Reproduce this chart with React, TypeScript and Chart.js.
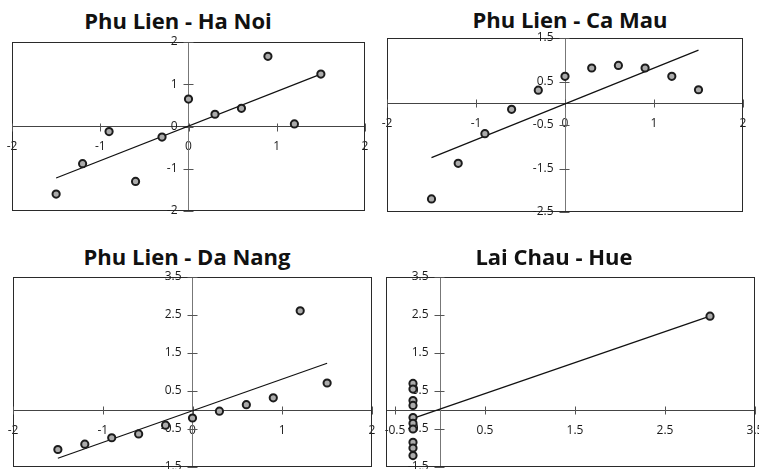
import React, { useEffect, useRef } from "react";
import { Chart, registerables } from "chart.js";

Chart.register(...registerables);

// ---- data ----
const stdX = [-1.5, -1.2, -0.9, -0.6, -0.3, 0, 0.3, 0.6, 0.9, 1.2, 1.5];

const haNoiY = [-1.6, -0.88, -0.12, -1.3, -0.25, 0.65, 0.29, 0.43, 1.66, 0.06, 1.24];
const caMauY = [-2.2, -1.38, -0.7, -0.14, 0.3, 0.62, 0.81, 0.87, 0.81, 0.62, 0.31];
const daNangY = [-1.04, -0.9, -0.73, -0.63, -0.4, -0.21, -0.03, 0.14, 0.32, 2.61, 0.71];

const hueX = [-0.3, -0.3, -0.3, -0.3, -0.3, -0.3, -0.3, -0.3, -0.3, -0.3, 3.0];
const hueY = [0.7, 0.55, 0.25, 0.12, -0.2, -0.35, -0.5, -0.85, -1.0, -1.2, 2.47];

const haNoiTrendX = [-1.5, 1.5];
const haNoiTrendY = [-1.22, 1.24];
const caMauTrendX = [-1.5, 1.5];
const caMauTrendY = [-1.25, 1.22];
const daNangTrendX = [-1.5, 1.5];
const daNangTrendY = [-1.27, 1.23];
const hueTrendX = [-0.3, 3.0];
const hueTrendY = [-0.22, 2.47];

const stdXTicks = [-2, -1, 0, 1, 2];
const haNoiYTicks = [-2, -1, 0, 1, 2];
const caMauYTicks = [-2.5, -1.5, -0.5, 0.5, 1.5];
const daNangYTicks = [-1.5, -0.5, 0.5, 1.5, 2.5, 3.5];
const hueXTicks = [-0.5, 0.5, 1.5, 2.5, 3.5];
const hueYTicks = [-1.5, -0.5, 0.5, 1.5, 2.5, 3.5];
const hueXRange = [-0.6, 3.5];

const titles = ["Phu Lien - Ha Noi", "Phu Lien - Ca Mau", "Phu Lien - Da Nang", "Lai Chau - Hue"];

const toPoints = (xs: number[], ys: number[]) => xs.map((x, i) => ({ x, y: ys[i] }));

const LABEL_FONT = "12px 'Open Sans', sans-serif";

// frame around the plot area + crossing tick marks + y tick labels beside the vertical axis
const framePlugin = {
  id: "frame",
  beforeDatasetsDraw(chart: any) {
    const { ctx, chartArea, scales } = chart;
    const { left, top, right, bottom } = chartArea;
    const xs = scales.x;
    const ys = scales.y;
    ctx.save();
    ctx.strokeStyle = "#2a2a2a";
    ctx.lineWidth = 1;
    ctx.strokeRect(left + 0.5, top + 0.5, right - left - 1, bottom - top - 1);

    const ax = Math.round(xs.getPixelForValue(0)) + 0.5;
    const ay = Math.round(ys.getPixelForValue(0)) + 0.5;
    ctx.strokeStyle = "#555";
    ctx.beginPath();
    ys.ticks.forEach((t: any) => {
      const py = Math.round(ys.getPixelForValue(t.value)) + 0.5;
      ctx.moveTo(ax - 6, py);
      ctx.lineTo(ax + 4, py);
    });
    xs.ticks.forEach((t: any) => {
      const px = Math.round(xs.getPixelForValue(t.value)) + 0.5;
      ctx.moveTo(px, ay - 4);
      ctx.lineTo(px, ay + 4);
    });
    ctx.stroke();

    ctx.font = LABEL_FONT;
    ctx.fillStyle = "#1a1a1a";
    ctx.textAlign = "right";
    ctx.textBaseline = "middle";
    ys.ticks.forEach((t: any) => {
      ctx.fillText(String(t.value), ax - 12, ys.getPixelForValue(t.value));
    });
    ctx.restore();
  },
};

type PanelProps = {
  title: string;
  box: { left: number; top: number; right: number; bottom: number };
  titleCx: number;
  titleTop: number;
  xs: number[];
  ys: number[];
  tx: number[];
  ty: number[];
  xTicks: number[];
  yTicks: number[];
  xRange?: number[];
};

const M = 12;

function Panel(p: PanelProps) {
  const ref = useRef<HTMLCanvasElement | null>(null);
  const w = p.box.right - p.box.left + 2 * M;
  const h = p.box.bottom - p.box.top + 2 * M;

  useEffect(() => {
    if (!ref.current) return;
    const xMin = p.xRange ? p.xRange[0] : p.xTicks[0];
    const xMax = p.xRange ? p.xRange[1] : p.xTicks[p.xTicks.length - 1];
    const tickFont = { family: "'Open Sans', sans-serif", size: 12 };
    const chart = new Chart(ref.current, {
      type: "scatter",
      data: {
        datasets: [
          {
            data: toPoints(p.xs, p.ys),
            pointRadius: 3.6,
            pointBorderWidth: 2,
            pointBorderColor: "#1c1c1c",
            pointBackgroundColor: "#ababab",
            showLine: false,
          },
          {
            data: toPoints(p.tx, p.ty),
            showLine: true,
            pointRadius: 0,
            borderColor: "#111",
            borderWidth: 1.2,
          },
        ],
      },
      options: {
        responsive: false,
        animation: false,
        events: [],
        layout: { padding: M },
        plugins: { legend: { display: false }, title: { display: false }, tooltip: { enabled: false } },
        scales: {
          x: {
            type: "linear",
            position: { y: 0 } as any,
            min: xMin,
            max: xMax,
            afterBuildTicks: (s: any) => {
              s.ticks = p.xTicks.map((v) => ({ value: v }));
            },
            afterFit: (s: any) => {
              s.paddingLeft = 0;
              s.paddingRight = 0;
            },
            grid: { drawOnChartArea: false, drawTicks: false },
            border: { display: true, color: "#444", width: 1 },
            ticks: { autoSkip: false, maxRotation: 0, padding: 13, color: "#1a1a1a", font: tickFont },
          },
          y: {
            type: "linear",
            position: { x: 0 } as any,
            min: p.yTicks[0],
            max: p.yTicks[p.yTicks.length - 1],
            afterBuildTicks: (s: any) => {
              s.ticks = p.yTicks.map((v) => ({ value: v }));
            },
            afterFit: (s: any) => {
              s.paddingTop = 0;
              s.paddingBottom = 0;
            },
            grid: { drawOnChartArea: false, drawTicks: false },
            border: { display: true, color: "#777", width: 1 },
            ticks: { display: false, autoSkip: false },
          },
        },
      },
      plugins: [framePlugin],
    } as any);
    return () => chart.destroy();
  }, []);

  return (
    <>
      <div
        style={{
          position: "absolute",
          left: p.titleCx - 150,
          top: p.titleTop,
          width: 300,
          textAlign: "center",
          fontFamily: "'Open Sans', sans-serif",
          fontWeight: 700,
          fontSize: 22,
          lineHeight: "24px",
          color: "#111",
          whiteSpace: "nowrap",
        }}
      >
        {p.title}
      </div>
      <div style={{ position: "absolute", left: p.box.left - M, top: p.box.top - M, width: w, height: h }}>
        <canvas ref={ref} width={w} height={h} style={{ width: w, height: h, display: "block" }} />
      </div>
    </>
  );
}

export default function App() {
  return (
    <div
      style={{
        position: "absolute",
        left: 0,
        top: 0,
        width: 759,
        height: 469,
        overflow: "hidden",
        background: "#fff",
      }}
    >
      <Panel
        title={titles[0]}
        box={{ left: 12, top: 42, right: 365, bottom: 211 }}
        titleCx={178}
        titleTop={8}
        xs={stdX}
        ys={haNoiY}
        tx={haNoiTrendX}
        ty={haNoiTrendY}
        xTicks={stdXTicks}
        yTicks={haNoiYTicks}
      />
      <Panel
        title={titles[1]}
        box={{ left: 387, top: 38, right: 743, bottom: 212 }}
        titleCx={570}
        titleTop={7}
        xs={stdX}
        ys={caMauY}
        tx={caMauTrendX}
        ty={caMauTrendY}
        xTicks={stdXTicks}
        yTicks={caMauYTicks}
      />
      <Panel
        title={titles[2]}
        box={{ left: 13, top: 277, right: 372, bottom: 467 }}
        titleCx={187}
        titleTop={244}
        xs={stdX}
        ys={daNangY}
        tx={daNangTrendX}
        ty={daNangTrendY}
        xTicks={stdXTicks}
        yTicks={daNangYTicks}
      />
      <Panel
        title={titles[3]}
        box={{ left: 386, top: 277, right: 755, bottom: 467 }}
        titleCx={554}
        titleTop={244}
        xs={hueX}
        ys={hueY}
        tx={hueTrendX}
        ty={hueTrendY}
        xTicks={hueXTicks}
        yTicks={hueYTicks}
        xRange={hueXRange}
      />
    </div>
  );
}
